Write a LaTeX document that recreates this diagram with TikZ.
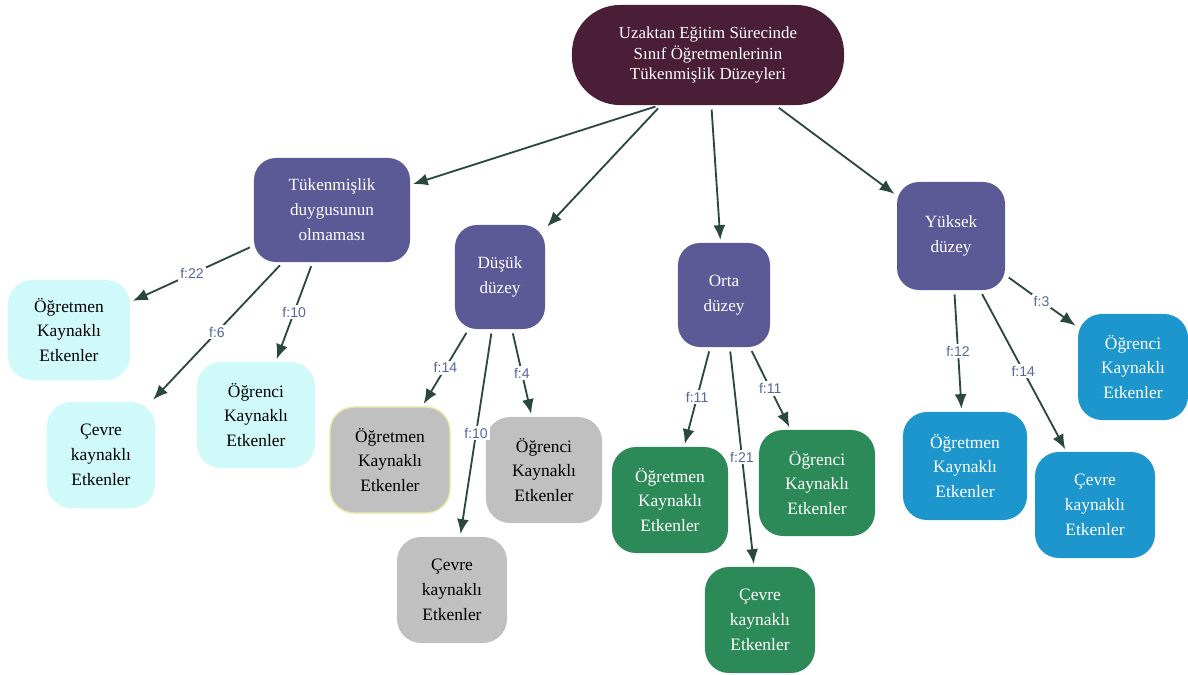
\documentclass[tikz,border=0pt]{standalone}
\usepackage{fontspec}
\setmainfont{Liberation Serif}
\newfontfamily\freqfont{Liberation Sans}
\usetikzlibrary{positioning, arrows.meta}

\definecolor{rootmaroon}{RGB}{74,30,54}
\definecolor{levelpurple}{RGB}{91,89,150}
\definecolor{leafcyan}{RGB}{208,250,250}
\definecolor{leafgray}{RGB}{192,192,192}
\definecolor{leafgreen}{RGB}{44,138,88}
\definecolor{leafblue}{RGB}{28,150,204}
\definecolor{arrowdark}{RGB}{42,72,62}
\definecolor{freqblue}{RGB}{86,102,160}
\definecolor{paleyellow}{RGB}{236,232,165}

\begin{document}
\begin{tikzpicture}[
    x=0.025cm, y=-0.025cm,  % one unit = one pixel of the reference
    % Styles
    root/.style={fill=rootmaroon, text=white, rounded corners=1.2cm, minimum width=6.8cm, minimum height=2.5cm, align=center, font=\fontsize{12}{14.5}\selectfont},
    level/.style={fill=levelpurple, text=white, rounded corners=0.55cm, minimum height=2.6cm, align=center, font=\fontsize{12.2}{17.7}\selectfont},
    leaf/.style={rounded corners=0.6cm, minimum width=2.9cm, minimum height=2.65cm, align=center, font=\fontsize{12.4}{17.7}\selectfont},
    cyanleaf/.style={leaf, fill=leafcyan},
    grayleaf/.style={leaf, fill=leafgray},
    greenleaf/.style={leaf, fill=leafgreen, text=white},
    blueleaf/.style={leaf, fill=leafblue, text=white},
    arrow/.style={-{Latex[length=10.5pt,width=8.5pt]}, line width=1.3pt, arrowdark, shorten <=3pt, shorten >=2pt},
    freq/.style={font=\freqfont\fontsize{10}{12}\selectfont, text=freqblue, fill=white, inner sep=1.5pt},
]
\useasboundingbox (0,0) rectangle (1188,675);

% Root
\node[root] (root) at (708,55) {Uzaktan Eğitim Sürecinde\\Sınıf Öğretmenlerinin\\Tükenmişlik Düzeyleri};

% Levels
\node[level, minimum width=3.9cm] (none) at (332,210) {Tükenmişlik\\duygusunun\\olmaması};
\node[level, minimum width=2.25cm] (low) at (500,277) {Düşük\\düzey};
\node[level, minimum width=2.3cm] (mid) at (724,295) {Orta\\düzey};
\node[level, minimum width=2.7cm, minimum height=2.7cm] (high) at (951,236) {Yüksek\\düzey};

\draw[arrow] (root.226) -- (none);
\draw[arrow] (root) -- (low);
\draw[arrow] (root) -- (mid);
\draw[arrow] (root) -- (high);

% No burnout (cyan)
\node[cyanleaf, minimum width=3.05cm, minimum height=2.5cm] (noneT) at (69,330) {Öğretmen\\Kaynaklı\\Etkenler};
\node[cyanleaf, minimum width=2.7cm] (noneC) at (101,455) {Çevre\\kaynaklı\\Etkenler};
\node[cyanleaf, minimum width=2.95cm] (noneS) at (256,415) {Öğrenci\\Kaynaklı\\Etkenler};

\draw[arrow] (none) -- node[freq] {f:22} (noneT);
\draw[arrow] (none) -- node[freq] {f:6} (noneC);
\draw[arrow] (none) -- node[freq] {f:10} (noneS);

% Low level (gray)
\node[grayleaf, minimum width=3cm, draw=paleyellow, line width=1pt] (lowT) at (390,460) {Öğretmen\\Kaynaklı\\Etkenler};
\node[grayleaf] (lowS) at (544,470) {Öğrenci\\Kaynaklı\\Etkenler};
\node[grayleaf, minimum width=2.75cm] (lowC) at (452,590) {Çevre\\kaynaklı\\Etkenler};

\draw[arrow] (low) -- node[freq] {f:14} (lowT);
\draw[arrow] (low) -- node[freq] {f:10} (lowC);
\draw[arrow] (low) -- node[freq] {f:4} (lowS);

% Middle level (green)
\node[greenleaf] (midT) at (670,500) {Öğretmen\\Kaynaklı\\Etkenler};
\node[greenleaf] (midS) at (817,483) {Öğrenci\\Kaynaklı\\Etkenler};
\node[greenleaf, minimum width=2.75cm] (midC) at (760,620) {Çevre\\kaynaklı\\Etkenler};

\draw[arrow] (mid) -- node[freq] {f:11} (midT);
\draw[arrow] (mid) -- node[freq] {f:21} (midC);
\draw[arrow] (mid) -- node[freq] {f:11} (midS);

% High level (blue)
\node[blueleaf, minimum width=3.1cm, minimum height=2.7cm] (highT) at (965,466) {Öğretmen\\Kaynaklı\\Etkenler};
\node[blueleaf, minimum width=3cm] (highC) at (1095,505) {Çevre\\kaynaklı\\Etkenler};
\node[blueleaf, minimum width=2.75cm] (highS) at (1133,367) {Öğrenci\\Kaynaklı\\Etkenler};

\draw[arrow] (high) -- node[freq] {f:12} (highT);
\draw[arrow] (high) -- node[freq] {f:14} (highC);
\draw[arrow] (high) -- node[freq] {f:3} (highS);

\end{tikzpicture}
\end{document}
